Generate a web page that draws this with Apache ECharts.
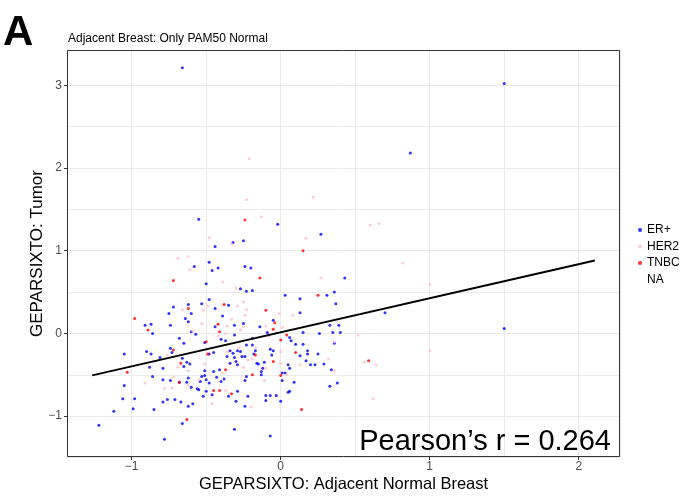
<!DOCTYPE html>
<html>
<head>
<meta charset="utf-8">
<script src="https://cdn.jsdelivr.net/npm/echarts@6/dist/echarts.min.js"></script>
<style>
html,body{margin:0;padding:0;background:#fff;}
#chart{width:684px;height:500px;}
</style>
</head>
<body>
<div id="chart"></div>
<script>
// ---- data ----
const erPos = [
[-0.66,3.21],[1.50,3.02],[0.87,2.18],[-0.55,1.38],[-0.02,1.32],[0.27,1.20],[-0.32,1.10],[-0.25,1.12],
[-0.44,1.05],[-0.48,0.86],[-0.58,0.81],[-0.42,0.79],[-0.46,0.76],[-0.24,0.81],[-0.20,0.79],[0.43,0.67],
[-0.50,0.60],[-0.27,0.54],[-0.23,0.51],[-0.19,0.52],[0.36,0.50],[0.03,0.46],[0.13,0.42],[0.31,0.46],
[-0.48,0.41],[-0.53,0.36],[-0.62,0.35],[-0.35,0.34],[0.37,0.36],[-0.72,0.32],[-0.75,0.24],[-0.44,0.30],
[0.13,0.25],[0.70,0.25],[-0.60,0.24],[-0.64,0.18],[-0.39,0.21],[-0.62,0.14],[-0.05,0.16],[-0.87,0.11],
[-0.91,0.10],[-0.74,0.10],[-0.44,0.08],[-0.31,0.10],[-0.25,0.12],[-0.14,0.08],[0.33,0.10],[0.39,0.10],
[-0.86,0.00],[-0.60,0.02],[-0.57,-0.01],[-0.09,0.01],[0.15,0.01],[0.26,0.00],[0.35,0.01],[0.40,0.01],
[0.06,-0.05],[-0.31,-0.02],[-0.68,-0.06],[-0.19,-0.06],[-0.65,-0.12],[-0.37,-0.09],[-0.51,-0.11],[0.07,-0.09],
[0.10,-0.13],[0.15,-0.13],[0.36,-0.12],[-0.40,-0.07],[-0.23,-0.14],[-0.19,-0.14],[-0.74,-0.18],[-0.73,-0.23],
[-0.90,-0.22],[-0.87,-0.25],[-0.81,-0.29],[-1.05,-0.25],[-0.45,-0.23],[-0.48,-0.25],[-0.32,-0.24],[-0.34,-0.21],
[-0.17,-0.21],[-0.07,-0.19],[-0.05,-0.21],[-0.06,-0.26],[0.18,-0.21],[0.18,-0.25],[0.13,-0.27],[0.25,-0.25],
[-0.29,-0.21],[-0.27,-0.22],[-0.26,-0.28],[-0.36,-0.28],[-0.31,-0.29],[-0.18,-0.25],[-0.24,-0.28],[0.17,-0.33],
[0.20,-0.38],[0.23,-0.38],[0.29,-0.37],[-0.66,-0.30],[-0.63,-0.35],[-0.61,-0.37],[-0.65,-0.40],[-0.34,-0.36],
[-0.29,-0.38],[-0.11,-0.35],[-0.16,-0.36],[-0.15,-0.37],[-0.30,-0.34],[0.05,-0.38],[0.06,-0.42],[-0.88,-0.41],
[-0.79,-0.42],[-0.51,-0.45],[-0.45,-0.46],[-0.41,-0.44],[-0.12,-0.42],[-0.13,-0.46],[0.01,-0.48],[0.03,-0.48],
[0.34,-0.44],[-0.86,-0.52],[-0.62,-0.54],[-0.53,-0.52],[-0.51,-0.51],[-0.50,-0.56],[-0.43,-0.53],[-0.38,-0.55],
[-0.13,-0.50],[-0.23,-0.52],[-0.79,-0.56],[-0.74,-0.57],[0.01,-0.57],[0.09,-0.59],[-1.05,-0.63],[-0.68,-0.59],
[-0.63,-0.59],[-0.54,-0.58],[-0.48,-0.60],[-0.40,-0.58],[-0.24,-0.57],[0.38,-0.60],[0.33,-0.64],[-0.60,-0.65],
[-0.56,-0.67],[-0.55,-0.68],[-0.50,-0.70],[-0.29,-0.70],[-0.35,-0.76],[-0.22,-0.76],[-0.10,-0.75],[-0.07,-0.75],
[-0.03,-0.75],[0.05,-0.71],[0.06,-0.70],[-0.52,-0.76],[-0.46,-0.74],[-1.06,-0.79],[-0.98,-0.79],[-0.76,-0.80],
[-0.71,-0.80],[-0.79,-0.83],[-0.67,-0.83],[-0.59,-0.85],[-0.62,-0.88],[-0.30,-0.82],[-0.10,-0.81],[0.00,-0.82],
[-0.24,-0.88],[-0.99,-0.91],[-0.85,-0.92],[-1.12,-0.94],[-1.22,-1.11],[-0.66,-1.09],[-0.31,-1.16],[-0.07,-1.24],
[-0.78,-1.28],[1.50,0.06]
];
const her2 = [
[-0.21,2.11],[-0.23,1.62],[0.22,1.65],[-0.13,1.41],[0.60,1.31],[0.66,1.33],[0.17,1.15],[-0.48,1.16],
[-0.33,1.08],[-0.69,0.91],[-0.62,0.93],[-0.61,0.77],[0.82,0.85],[0.27,0.67],[-0.39,0.62],[1.00,0.59],
[-0.30,0.55],[-0.49,0.33],[-0.29,0.33],[-0.25,0.38],[-0.66,0.29],[-0.52,0.28],[-0.23,0.29],[-0.24,0.22],
[-0.01,0.24],[0.08,0.22],[-0.33,0.17],[-0.53,0.12],[-0.36,0.09],[-0.25,0.08],[-0.27,0.04],[-0.10,0.09],
[0.01,0.07],[-0.59,0.03],[0.52,-0.02],[-0.37,0.00],[-0.42,-0.03],[-0.03,0.01],[0.36,-0.10],[-0.28,-0.17],
[-0.36,-0.22],[0.00,-0.22],[-0.76,-0.26],[-0.17,-0.17],[0.32,-0.31],[-0.69,-0.41],[-0.19,-0.31],[-0.22,-0.32],
[0.13,-0.38],[0.56,-0.35],[0.64,-0.38],[0.00,-0.36],[-0.62,-0.45],[-0.39,-0.48],[-0.51,-0.37],[-0.10,-0.42],
[0.04,-0.50],[0.36,-0.45],[-0.55,-0.56],[-0.72,-0.53],[-0.91,-0.60],[-0.11,-0.57],[-0.78,-0.67],[-0.73,-0.66],
[-0.62,-0.63],[-0.37,-0.69],[-0.46,-0.85],[0.62,-0.79],[-0.20,-0.89],[1.00,-0.21],[-0.25,-0.41]
];
const tnbc = [
[-0.24,1.37],[0.15,1.00],[-0.72,0.64],[-0.14,0.67],[0.25,0.46],[-0.38,0.35],[-0.10,0.28],[-0.98,0.18],
[-0.62,0.30],[-0.04,0.13],[-0.42,0.11],[-0.05,0.05],[-0.89,0.04],[-0.41,0.02],[-0.08,-0.02],[0.04,-0.02],
[0.00,-0.08],[-0.50,-0.10],[-0.72,-0.20],[-0.49,-0.25],[-0.17,-0.26],[0.10,-0.23],[-0.67,-0.36],[-0.05,-0.34],
[0.59,-0.33],[-1.03,-0.47],[-0.19,-0.50],[0.00,-0.51],[-0.68,-0.59],[-0.45,-0.69],[-0.41,-0.69],[-0.33,-0.73],
[0.14,-0.92],[-0.63,-1.04],[-0.37,-0.44]
];
const naPoints = [];
const fitLine = [[-1.265,-0.507],[2.108,0.882]];
const xTicks = [-1, 0, 1, 2];
const yTicks = [-1, 0, 1, 2, 3];
const xRange = [-1.434, 2.277];
const yRange = [-1.494, 3.426];

// ---- chart ----
const chart = echarts.init(document.getElementById('chart'), null, {renderer:'canvas'});
const FONT = '"Liberation Sans", Arial, Helvetica, sans-serif';
const intLabel = v => (Math.abs(v - Math.round(v)) < 1e-9 ? String(Math.round(v)).replace('-', '\u2212') : '');
const pointSeries = (name, data, color) => ({
  name, type:'scatter', data, symbol:'circle', symbolSize:3,
  itemStyle:{color}, silent:true, z:2
});
// grid axes (split lines every 0.5) and label axes (ticks + labels at the integer breaks)
const gridAxis = (range, splitNumber) => ({
  type:'value', min:range[0], max:range[1], splitNumber,
  axisLine:{show:false, onZero:false}, axisTick:{show:false}, axisLabel:{show:false},
  splitLine:{show:true, lineStyle:{color:'#ebebeb', width:1}}
});
const labelAxis = (range, ticks, name, pos, gap, nameSize, margin) => ({
  type:'value', min:range[0], max:range[1], splitNumber:4, position:pos,
  name, nameLocation:'middle', nameGap:gap, nameMoveOverlap:false,
  nameTextStyle:{fontFamily:FONT, fontSize:nameSize, color:'#000'},
  axisLine:{show:false, onZero:false},
  axisTick:{show:true, length:3, lineStyle:{color:'#333'}, customValues:ticks},
  axisLabel:{customValues:ticks, formatter:intLabel, color:'#4d4d4d', fontSize:12, margin, fontFamily:FONT, hideOverlap:false},
  splitLine:{show:false}
});
const G = {left:67, right:64, top:50, bottom:43};
chart.setOption({
  animation:false,
  textStyle:{fontFamily:FONT},
  grid:{left:G.left, right:G.right, top:G.top, bottom:G.bottom, show:false, containLabel:false, outerBoundsMode:'none'},
  title:{text:'Adjacent Breast: Only PAM50 Normal', left:63, top:28, textStyle:{fontFamily:FONT, fontSize:12, fontWeight:'normal', color:'#000'}},
  legend:{
    data:['ER+','HER2','TNBC','NA'], orient:'vertical', left:633, top:219,
    icon:'circle', itemWidth:4, itemHeight:4, itemGap:4.5,
    textStyle:{fontFamily:FONT, fontSize:12, color:'#000'}, selectedMode:false
  },
  xAxis:[
    gridAxis(xRange, 7),
    labelAxis(xRange, xTicks, 'GEPARSIXTO: Adjacent Normal Breast', 'bottom', 19, 16.5, 4)
  ],
  yAxis:[
    gridAxis(yRange, 10),
    labelAxis(yRange, yTicks, 'GEPARSIXTO: Tumor', 'left', 21, 17, 5)
  ],
  graphic:[
    {type:'text', left:3, top:12, style:{text:'A', font:'bold 42px ' + FONT, fill:'#000'}},
    {type:'text', right:73, top:427, z:50, style:{text:'Pearson\u2019s r = 0.264', font:'29px ' + FONT, fill:'#000'}},
    {type:'rect', z:100, silent:true,
     shape:{x:G.left + 0.5, y:G.top + 0.5, width:684 - G.left - G.right - 1, height:500 - G.top - G.bottom - 1},
     style:{fill:null, stroke:'#333333', lineWidth:1}}
  ],
  series:[
    pointSeries('ER+', erPos, '#0000ff'),
    pointSeries('HER2', her2, '#ffc0cb'),
    pointSeries('TNBC', tnbc, '#ff0000'),
    pointSeries('NA', naPoints, 'rgba(0,0,0,0)'),
    {name:'fit', type:'line', data:fitLine, showSymbol:false, symbol:'none', silent:true, z:5,
     lineStyle:{color:'#000', width:2}}
  ]
});
</script>
</body>
</html>
